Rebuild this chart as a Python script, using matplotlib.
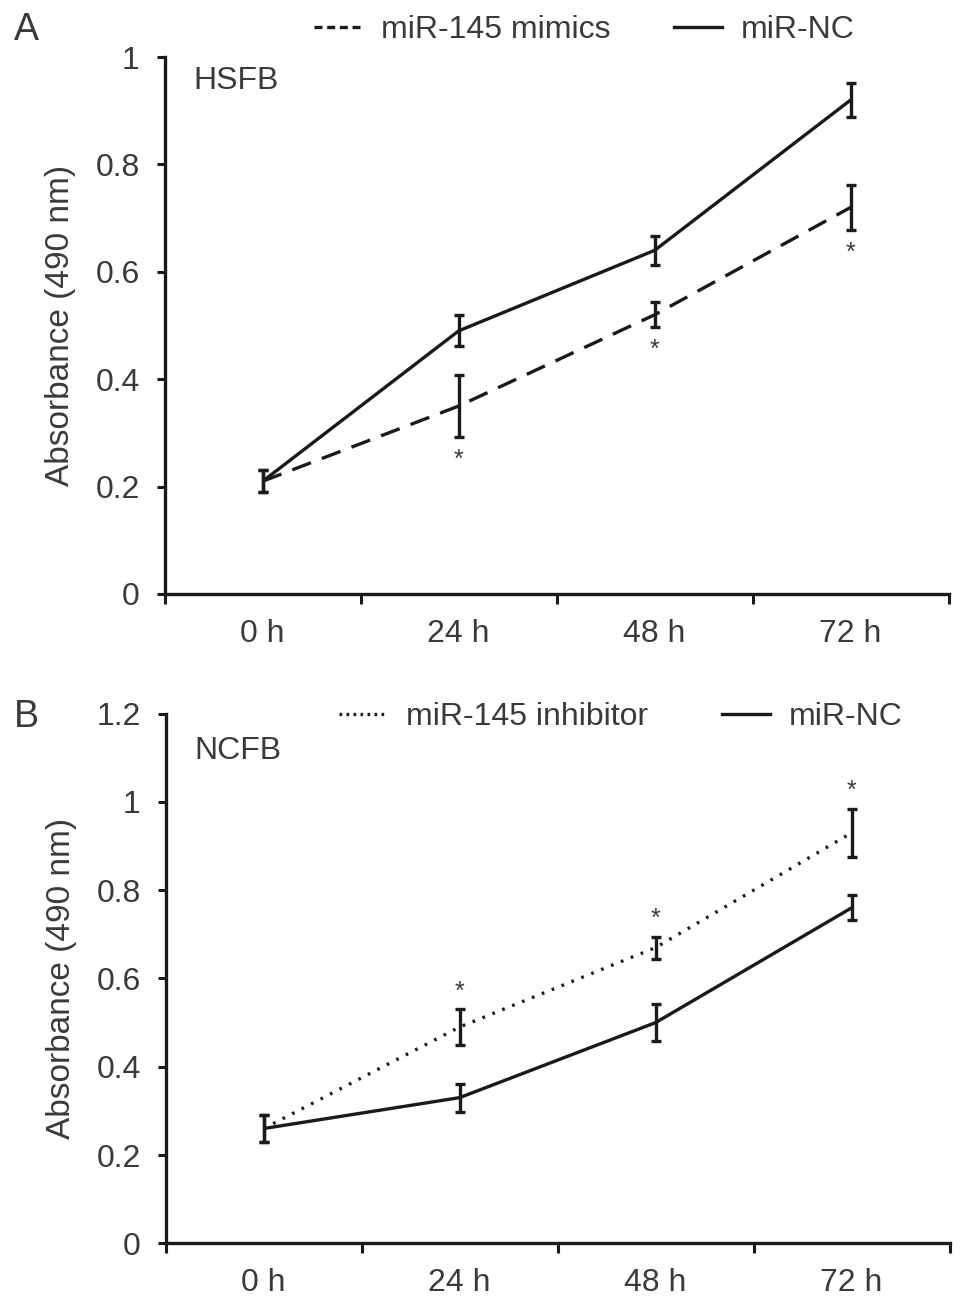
import numpy as np
import matplotlib

matplotlib.use("Agg")
import matplotlib.pyplot as plt
from matplotlib.lines import Line2D

plt.rcParams["font.family"] = ["Liberation Sans", "DejaVu Sans"]

# ---------------------------------------------------------------------------
# Data
# ---------------------------------------------------------------------------
time_labels = ["0 h", "24 h", "48 h", "72 h"]

# Panel A: HSFB
hsfb_mimics = [0.21, 0.35, 0.52, 0.72]
hsfb_mimics_err = [0.02, 0.057, 0.023, 0.042]
hsfb_nc = [0.21, 0.49, 0.64, 0.92]
hsfb_nc_err = [0.02, 0.029, 0.027, 0.031]
hsfb_star_idx = [1, 2, 3]  # stars below mimics bars

# Panel B: NCFB
ncfb_inhib = [0.26, 0.49, 0.67, 0.93]
ncfb_inhib_err = [0.03, 0.040, 0.025, 0.055]
ncfb_nc = [0.26, 0.33, 0.50, 0.76]
ncfb_nc_err = [0.03, 0.032, 0.041, 0.028]
ncfb_star_idx = [1, 2, 3]  # stars above inhibitor bars

TEXT = "#3a3a3a"
LINE = "#1a1a1a"
FS = 23
LW = 2.4

fig = plt.figure(figsize=(9.69, 13.02), dpi=100)


def style_axes(ax, ymax, yticks, yticklabels):
    x = np.arange(len(time_labels))
    ax.set_xlim(-0.5, len(time_labels) - 0.5)
    ax.set_ylim(0, ymax)
    for side in ("top", "right"):
        ax.spines[side].set_visible(False)
    for side in ("left", "bottom"):
        ax.spines[side].set_linewidth(2.4)
        ax.spines[side].set_color(LINE)
    ax.set_xticks(x)
    ax.set_xticklabels(time_labels, fontsize=FS, color=TEXT)
    ax.tick_params(axis="x", which="major", length=0, pad=18)
    ax.set_xticks(np.arange(-0.5, len(time_labels)), minor=True)
    ax.tick_params(axis="x", which="minor", length=7, width=2.2, color=LINE,
                   direction="out")
    ax.set_yticks(yticks)
    ax.set_yticklabels(yticklabels, fontsize=FS, color=TEXT)
    ax.tick_params(axis="y", length=6, width=2.2, color=LINE, pad=12)
    ax.set_ylabel("Absorbance (490 nm)", fontsize=FS + 1, color=TEXT,
                  labelpad=14)
    return x


def draw_series(ax, x, y, err, ls):
    ax.plot(x, y, color=LINE, lw=LW, linestyle=ls, zorder=3,
            solid_capstyle="butt", dash_capstyle="butt")
    ax.errorbar(x, y, yerr=err, fmt="none", ecolor=LINE, elinewidth=LW,
                capsize=3.5, capthick=LW, zorder=4)


# ---------------- Panel A ----------------
axA = fig.add_axes([0.170, 0.5438, 0.809, 0.4124])
xA = style_axes(axA, 1.0, [0, 0.2, 0.4, 0.6, 0.8, 1.0],
                ["0", "0.2", "0.4", "0.6", "0.8", "1"])
draw_series(axA, xA, hsfb_mimics, hsfb_mimics_err, (0, (6, 3.5)))
draw_series(axA, xA, hsfb_nc, hsfb_nc_err, "-")
for i in hsfb_star_idx:
    axA.text(xA[i], hsfb_mimics[i] - hsfb_mimics_err[i] - 0.02, "*",
             ha="center", va="top", fontsize=18, color=TEXT)
axA.text(0.036, 0.955, "HSFB", transform=axA.transAxes, fontsize=FS,
         color=TEXT, ha="left", va="center")
fig.text(0.014, 0.977, "A", fontsize=27, color=TEXT, va="center")

legA = [Line2D([0], [0], color=LINE, lw=LW, linestyle=(0, (2.4, 1.4))),
        Line2D([0], [0], color=LINE, lw=LW)]
fig.legend(legA, ["miR-145 mimics", "miR-NC"], loc="center",
           bbox_to_anchor=(0.603, 0.977), ncol=2, frameon=False,
           fontsize=FS, labelcolor=TEXT, handlelength=1.5,
           handletextpad=0.6, columnspacing=2.0)

# ---------------- Panel B ----------------
axB = fig.add_axes([0.171, 0.0451, 0.809, 0.4068])
xB = style_axes(axB, 1.2, [0, 0.2, 0.4, 0.6, 0.8, 1.0, 1.2],
                ["0", "0.2", "0.4", "0.6", "0.8", "1", "1.2"])
draw_series(axB, xB, ncfb_inhib, ncfb_inhib_err, (0, (0.8, 2.4)))
draw_series(axB, xB, ncfb_nc, ncfb_nc_err, "-")
for i in ncfb_star_idx:
    axB.text(xB[i], ncfb_inhib[i] + ncfb_inhib_err[i] + 0.012, "*",
             ha="center", va="bottom", fontsize=18, color=TEXT)
axB.text(0.036, 0.93, "NCFB", transform=axB.transAxes, fontsize=FS,
         color=TEXT, ha="left", va="center")
fig.text(0.014, 0.449, "B", fontsize=27, color=TEXT, va="center")

legB = [Line2D([0], [0], color=LINE, lw=LW, linestyle=(0, (0.8, 1.3))),
        Line2D([0], [0], color=LINE, lw=LW)]
fig.legend(legB, ["miR-145 inhibitor", "miR-NC"], loc="center",
           bbox_to_anchor=(0.641, 0.449), ncol=2, frameon=False,
           fontsize=FS, labelcolor=TEXT, handlelength=1.5,
           handletextpad=0.6, columnspacing=2.3)

fig.savefig("out.png", dpi=100)
